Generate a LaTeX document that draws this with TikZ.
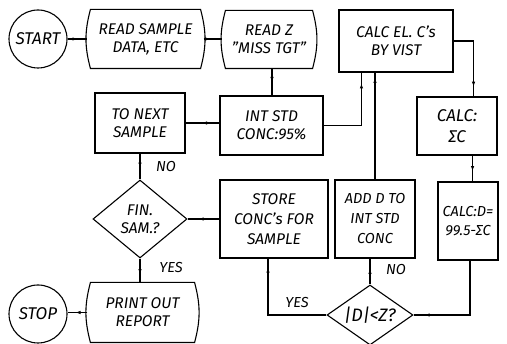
\documentclass[tikz,border=0pt]{standalone}
\usepackage{fontspec}
\setmainfont{Fira Sans}
\usetikzlibrary{shapes.geometric,decorations.markings,arrows.meta}
\newcommand{\curvedbox}[1]{\draw[boxline] ([xshift=3pt]#1.north west) -- ([xshift=-3pt]#1.north east) to[bend left=15] ([xshift=-3pt]#1.south east) -- ([xshift=3pt]#1.south west) to[bend left=15] cycle;}
\begin{document}
\begin{tikzpicture}[x=1pt,y=-1pt,line width=1.1pt,
  every node/.style={font=\itshape\fontsize{15.5}{18}\selectfont, align=center, inner sep=0pt},
  boxline/.style={line width=1.1pt},
  box/.style={draw, rectangle, line width=1.1pt},
  card/.style={rectangle},
  term/.style={draw, circle, minimum size=58pt, font=\itshape\fontsize{17}{18}\selectfont},
  dia/.style={draw, diamond, line width=1.1pt},
  lbl/.style={font=\itshape\fontsize{14.5}{16}\selectfont},
  mk/.style={postaction={decorate,decoration={markings,mark=at position #1 with {\arrow{Latex[length=5pt,width=3.5pt]}}}}}
]
\useasboundingbox (0,0) rectangle (507,344);
% top row
\node[term] (start) at (38,39) {START};
\node[card, minimum width=115pt, minimum height=58pt] (rs) at (145.5,39) {READ SAMPLE\\DATA, ETC};
\curvedbox{rs}
\node[card, minimum width=92pt, minimum height=57pt] (rz) at (269,39.5) {READ Z\\"MISS TGT"};
\curvedbox{rz}
\node[box, minimum width=114pt, minimum height=62pt] (ce) at (396,41) {CALC EL. C's\\BY VIST};
% second row
\node[box, minimum width=90pt, minimum height=60pt] (tn) at (140,123) {TO NEXT\\SAMPLE};
\node[box, minimum width=103pt, minimum height=59pt] (is) at (271.5,125.5) {INT STD\\CONC:95\%};
\node[box, minimum width=80pt, minimum height=58pt, font=\itshape\fontsize{17}{21}\selectfont] (cs) at (457,126) {CALC:\\ΣC};
% third row
\node[dia, minimum width=94pt, minimum height=78pt] (fin) at (140,219) {};
\node at (fin) {FIN.\\SAM.?};
\node[box, minimum width=108pt, minimum height=78pt, font=\itshape\fontsize{15.5}{20}\selectfont] (st) at (274,219) {STORE\\CONC's FOR\\SAMPLE};
\node[box, minimum width=80pt, minimum height=78pt, font=\itshape\fontsize{14.5}{20}\selectfont] (ad) at (375,219) {ADD D TO\\INT STD\\CONC};
\node[box, minimum width=60pt, minimum height=78pt, font=\itshape\fontsize{14.5}{19}\selectfont] (cd) at (468,221) {CALC:D=\\99.5-ΣC};
% bottom row
\node[term] (stop) at (38,314) {STOP};
\node[card, minimum width=109pt, minimum height=59pt] (po) at (142.5,312.5) {PRINT OUT\\REPORT};
\curvedbox{po}
\node[dia, minimum width=86pt, minimum height=60pt] (dz) at (370,315) {};
\node[font=\itshape\fontsize{18}{18}\selectfont] at (dz) {|D|<Z?};
% connectors
\draw[mk=0.5] (start.east) -- (start.east -| rs.west);
\draw[mk=0.35] (rs.east) -- (rs.east -| rz.west);
\draw[mk=0.5] ([xshift=3pt]rz.south) -- ([xshift=3pt]rz.south |- is.north);
\draw[mk=0.88] (is.east) -| ([xshift=23pt]ce.south west);
\draw[mk=0.95] (ad.north) -- (ad.north |- ce.south);
\draw[mk=0.87] (ce.east) -| ([xshift=-24pt]cs.north east);
\draw[mk=0.6] ([xshift=-25pt]cs.south east) -- ([xshift=-25pt]cs.south east |- cd.north);
\draw[mk=0.9] ([xshift=2pt]cd.south) |- (dz.east);
\draw[mk=0.92] (dz.west) -| ([xshift=-6pt]st.south);
\draw[mk=0.6] (dz.north) -- (dz.north |- ad.south);
\draw[mk=0.65] (st.west) -- (fin.east);
\draw[mk=0.8] (fin.north) -- (tn.south);
\draw[mk=0.75] (tn.east) -- (tn.east -| is.west);
\draw[mk=0.65] (fin.south) -- (fin.south |- po.north);
\draw[mk=0.6] (po.west) -- (po.west -| stop.east);
% labels
\node[lbl] (l1) at (166,167) {NO};
\node[lbl] (l2) at (171,268) {YES};
\node[lbl] (l3) at (297,303) {YES};
\node[lbl] (l4) at (396,270) {NO};
\end{tikzpicture}
\end{document}
